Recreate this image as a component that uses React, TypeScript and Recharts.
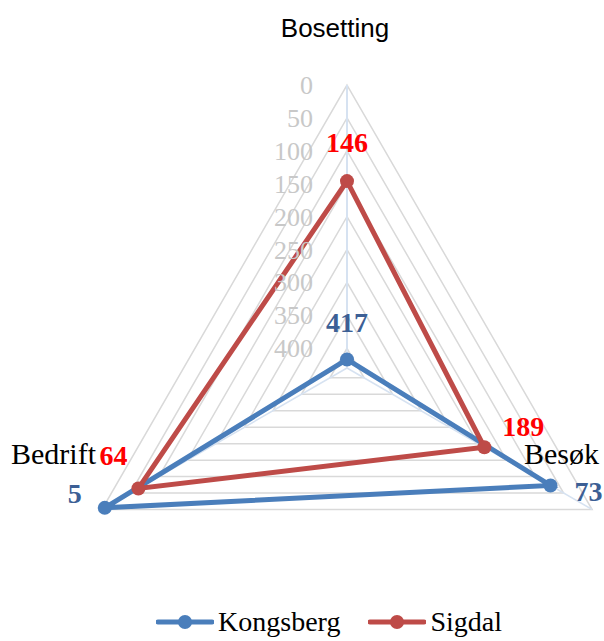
import React from "react";
import {
  RadarChart,
  Radar,
  PolarGrid,
  PolarAngleAxis,
  PolarRadiusAxis,
  Legend,
} from "recharts";

const categories = ["Bosetting", "Besøk", "Bedrift"];
const kongsberg = [417, 73, 5];
const sigdal = [146, 189, 64];
const radiusTicks = [0, 50, 100, 150, 200, 250, 300, 350, 400];

const data = categories.map((name, i) => ({
  name,
  Kongsberg: kongsberg[i],
  Sigdal: sigdal[i],
}));

const BLUE = "#4a7ebb";
const RED = "#be4b48";
const SERIF = "'Liberation Serif', serif";
const SANS = "'Liberation Sans', sans-serif";

// label offsets per category, relative to the tick point
const catOffsets = [
  { dx: -12, dy: -40, anchor: "middle", font: SANS, size: 26 },
  { dx: -75, dy: -50, anchor: "start", font: SERIF, size: 30 },
  { dx: -84, dy: -50, anchor: "start", font: SERIF, size: 30 },
];

const AngleTick = (props: any) => {
  const { x, y, payload, index } = props;
  const o = catOffsets[index] || catOffsets[0];
  return (
    <text
      x={x + o.dx}
      y={y + o.dy}
      textAnchor={o.anchor}
      fontFamily={o.font}
      fontSize={o.size}
      fill="#000"
    >
      {payload.value}
    </text>
  );
};

const RadiusTick = (props: any) => {
  const { x, y, payload } = props;
  return (
    <text
      x={x - 34}
      y={y + 9}
      textAnchor="end"
      fontFamily={SERIF}
      fontSize={26}
      fill="#c8c8c8"
    >
      {payload.value}
    </text>
  );
};

const blueOffsets = [
  { dx: 0, dy: -37 },
  { dx: 38, dy: 6 },
  { dx: -30, dy: -15 },
];
const redOffsets = [
  { dx: 0, dy: -39 },
  { dx: 39, dy: -21 },
  { dx: -25, dy: -33 },
];

const makeLabel = (offsets: { dx: number; dy: number }[], color: string) =>
  (props: any) => {
    const { x, y, value, index } = props;
    const o = offsets[index] || { dx: 0, dy: 0 };
    return (
      <text
        x={x + o.dx}
        y={y + o.dy + 10}
        textAnchor="middle"
        fontFamily={SERIF}
        fontWeight="bold"
        fontSize={28}
        fill={color}
      >
        {value}
      </text>
    );
  };

const makeDot = (color: string) => (props: any) => (
  <circle key={`d-${props.index}`} cx={props.cx} cy={props.cy} r={7} fill={color} stroke="none" />
);

const LegendContent = () => {
  const items = [
    { name: "Kongsberg", color: BLUE },
    { name: "Sigdal", color: RED },
  ];
  return (
    <div
      style={{
        display: "flex",
        justifyContent: "center",
        gap: 28,
        fontFamily: SERIF,
        fontSize: 28,
        lineHeight: "32px",
        paddingLeft: 54,
      }}
    >
      {items.map((it) => (
        <div key={it.name} style={{ display: "flex", alignItems: "center" }}>
          <svg width={58} height={20} style={{ marginRight: 4 }}>
            <line x1={2} y1={10} x2={56} y2={10} stroke={it.color} strokeWidth={5} strokeLinecap="round" />
            <circle cx={29} cy={10} r={7} fill={it.color} />
          </svg>
          <span>{it.name}</span>
        </div>
      ))}
    </div>
  );
};

export default function App() {
  return (
    <div style={{ position: "absolute", left: 0, top: 0, width: 604, height: 641, overflow: "hidden", background: "#fff" }}>
      <RadarChart
        width={604}
        height={641}
        data={data}
        cx={347}
        cy={368}
        outerRadius={283}
        margin={{ top: 0, right: 0, bottom: 0, left: 0 }}
      >
        <PolarGrid gridType="polygon" stroke="#d9d9d9" strokeWidth={1.5} radialLines={false} />
        <PolarGrid gridType="polygon" stroke="#d6e2f1" strokeWidth={1.5} polarRadius={[]} />
        <PolarAngleAxis
          dataKey="name"
          tick={AngleTick}
          tickLine={false}
          axisLine={false}
        />
        <PolarRadiusAxis
          angle={90}
          type="number"
          domain={[0, 430]}
          ticks={radiusTicks}
          reversed
          tick={RadiusTick}
          axisLine={{ stroke: "#d6e2f1", strokeWidth: 2 }}
          tickLine={false}
        />
        <Radar
          name="Kongsberg"
          dataKey="Kongsberg"
          stroke={BLUE}
          strokeWidth={5}
          fill="none"
          fillOpacity={0}
          dot={makeDot(BLUE)}
          label={makeLabel(blueOffsets, "#3c5f95")}
          isAnimationActive={false}
        />
        <Radar
          name="Sigdal"
          dataKey="Sigdal"
          stroke={RED}
          strokeWidth={5}
          fill="none"
          fillOpacity={0}
          dot={makeDot(RED)}
          label={makeLabel(redOffsets, "#ff0000")}
          isAnimationActive={false}
        />
        <Legend
          content={<LegendContent />}
          wrapperStyle={{ position: "absolute", top: 606, left: 0, width: 604 }}
        />
      </RadarChart>
    </div>
  );
}
